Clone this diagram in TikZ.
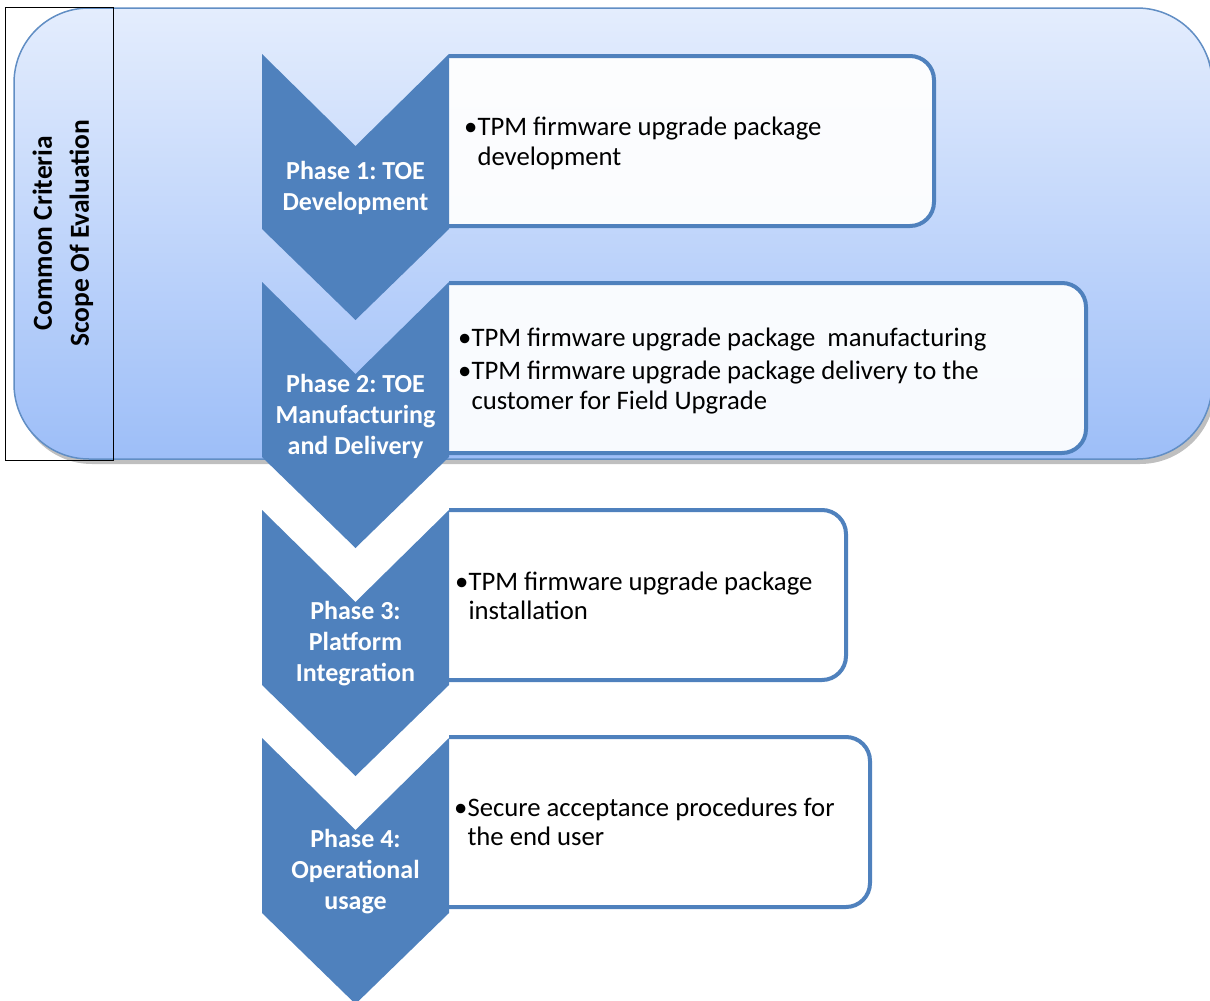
\documentclass[tikz,border=0pt]{standalone}
\usepackage{fontspec}
\setmainfont{Carlito}
\usepackage{tikz}
\usetikzlibrary{calc}
\definecolor{phaseblue}{RGB}{79,129,189}
\definecolor{scopetop}{RGB}{228,237,253}
\definecolor{scopebot}{RGB}{157,190,248}
\tikzstyle{scope} = [draw=phaseblue!90, line width=1.5pt, rounded corners=75pt, top color=scopetop, bottom color=scopebot]
\tikzstyle{chev} = [fill=phaseblue]
\tikzstyle{ph} = [text=white, font=\bfseries\fontsize{26}{31}\selectfont, align=center, inner sep=0pt]
\tikzstyle{bx} = [draw=phaseblue, line width=4pt, rounded corners=24pt, fill=white, fill opacity=.93]
\tikzstyle{tx} = [anchor=west, font=\fontsize{26.7}{29.5}\selectfont, align=left, inner sep=0pt]
\frenchspacing

\begin{document}
\begin{tikzpicture}[x=1pt,y=-1pt]
	\useasboundingbox (0,0) rectangle (1210,1001);
	% scope of evaluation
	\fill[black!25, rounded corners=75pt] (17,13) rectangle (1215,464);
	\draw[scope] (14,8) rectangle (1212,459);
	\node[draw, line width=1pt, minimum width=108pt, minimum height=453pt, inner sep=0pt] (cc) at (59,233.5) {};
	\node[rotate=90, font=\bfseries\fontsize{27.5}{37}\selectfont, align=center] (cclabel) at (63,233) {Common Criteria\\Scope Of Evaluation};
	% text boxes
	\begin{scope}
	\clip (449,0) rectangle (1210,1001);
	\foreach \k/\y/\r in {1/56/934,2/283/1086,3/510/846,4/737/870}
	\draw[bx] (400,\y) rectangle (\r,\y+170);
	\end{scope}
	% chevrons
	\foreach \k/\lbl in {0/{Phase 1: TOE\\Development},1/{Phase 2: TOE\\Manufacturing\\and Delivery},2/{Phase 3:\\Platform\\Integration},3/{Phase 4:\\Operational\\usage}}
	{
		\pgfmathsetmacro{\t}{54+228*\k}
		\fill[chev] (262,\t) -- (355.5,\t+92) -- (449,\t) -- (449,\t+175) -- (355.5,\t+266) -- (262,\t+175) -- cycle;
		\node[ph] (ph\k) at (355.5,\t+134) {\lbl};
	}
	% bullets
	\node[tx] (t1) at (464,143.5) {\textbullet TPM firmware upgrade package\\\hphantom{\textbullet}development};
	\node[tx] (t2) at (458,371) {\textbullet TPM firmware upgrade package\ \ manufacturing\\[4pt]\textbullet TPM firmware upgrade package delivery to the\\\hphantom{\textbullet}customer for Field Upgrade};
	\node[tx] (t3) at (455,596) {\textbullet TPM firmware upgrade package\\\hphantom{\textbullet}installation};
	\node[tx] (t4) at (454,822) {\textbullet Secure acceptance procedures for\\\hphantom{\textbullet}the end user};
%	\node[right] at (ph0.east) {};
\end{tikzpicture}
\end{document}
